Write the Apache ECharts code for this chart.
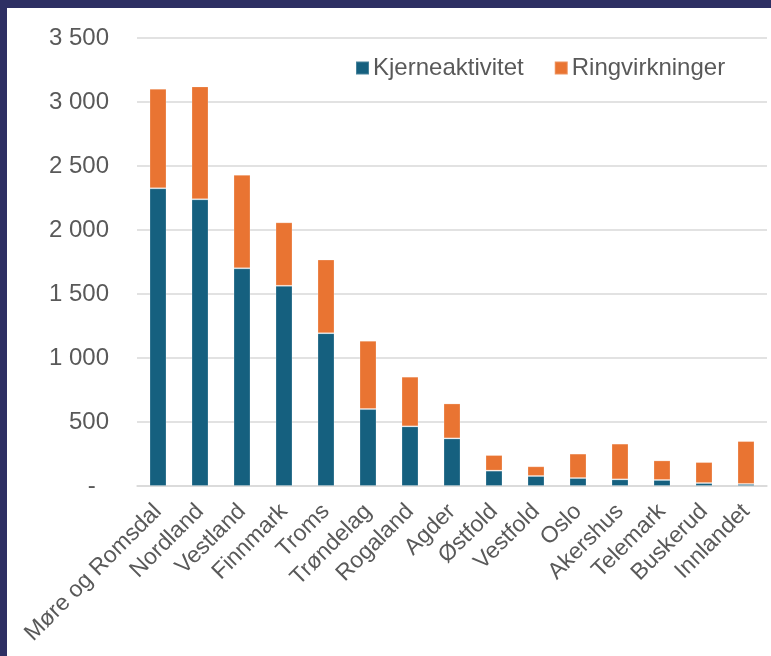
<!DOCTYPE html>
<html>
<head>
<meta charset="utf-8">
<script src="https://cdn.jsdelivr.net/npm/echarts@6/dist/echarts.min.js"></script>
<style>
  html, body { margin: 0; padding: 0; width: 771px; height: 656px; background: #2d2f63; overflow: hidden; }
  #chart { position: absolute; left: 7px; top: 8px; width: 764px; height: 648px; background: #ffffff; }
</style>
</head>
<body>
<div id="chart"></div>
<script>
const categories = ['Møre og Romsdal', 'Nordland', 'Vestland', 'Finnmark', 'Troms', 'Trøndelag', 'Rogaland', 'Agder', 'Østfold', 'Vestfold', 'Oslo', 'Akershus', 'Telemark', 'Buskerud', 'Innlandet'];
const kjerneaktivitet = [2326, 2240, 1701, 1564, 1194, 601, 466, 372, 120, 78, 62, 52, 47, 23, 16];
const ringvirkninger = [778, 882, 730, 496, 575, 534, 388, 273, 122, 76, 191, 279, 153, 164, 335];
const seriesNames = ['Kjerneaktivitet', 'Ringvirkninger'];
const yTicks = [0, 500, 1000, 1500, 2000, 2500, 3000, 3500];

const FONT = '"Liberation Sans", Arial, sans-serif';
const TEXT = '#595959';

function fmt(v) {
  if (v === 0) return '-  ';
  return String(v).replace(/\B(?=(\d{3})+(?!\d))/g, ' ');
}

const chart = echarts.init(document.getElementById('chart'), null, { renderer: 'canvas' });
chart.setOption({
  animation: false,
  backgroundColor: '#ffffff',
  textStyle: { fontFamily: FONT },
  legend: {
    data: seriesNames,
    left: 343,
    top: 43,
    itemWidth: 13,
    itemHeight: 13,
    itemGap: 30,
    icon: 'rect',
    textStyle: { fontFamily: FONT, fontSize: 24, color: TEXT, padding: [0, 0, 0, -1] }
  },
  grid: { left: 130, right: 4, top: 30, bottom: 170, containLabel: false },
  xAxis: {
    type: 'category',
    data: categories,
    axisTick: { show: false },
    axisLine: { lineStyle: { color: '#d9d9d9', width: 1.5 } },
    axisLabel: { rotate: 45, interval: 0, fontFamily: FONT, fontSize: 23, color: TEXT, margin: 22 }
  },
  yAxis: {
    type: 'value',
    min: yTicks[0],
    max: yTicks[yTicks.length - 1],
    interval: 500,
    axisLine: { show: false },
    axisTick: { show: false },
    splitLine: { lineStyle: { color: '#d9d9d9', width: 1.5 } },
    axisLabel: { fontFamily: FONT, fontSize: 24, color: TEXT, margin: 28, formatter: fmt }
  },
  series: [
    {
      name: seriesNames[0], type: 'bar', stack: 'total', barWidth: 17,
      data: kjerneaktivitet,
      itemStyle: { color: '#15607f', borderColor: 'rgba(255,255,255,0.22)', borderWidth: 1 }
    },
    {
      name: seriesNames[1], type: 'bar', stack: 'total', barWidth: 17,
      data: ringvirkninger,
      itemStyle: { color: '#e97432', borderColor: 'rgba(255,255,255,0.22)', borderWidth: 1 }
    }
  ]
});
</script>
</body>
</html>
